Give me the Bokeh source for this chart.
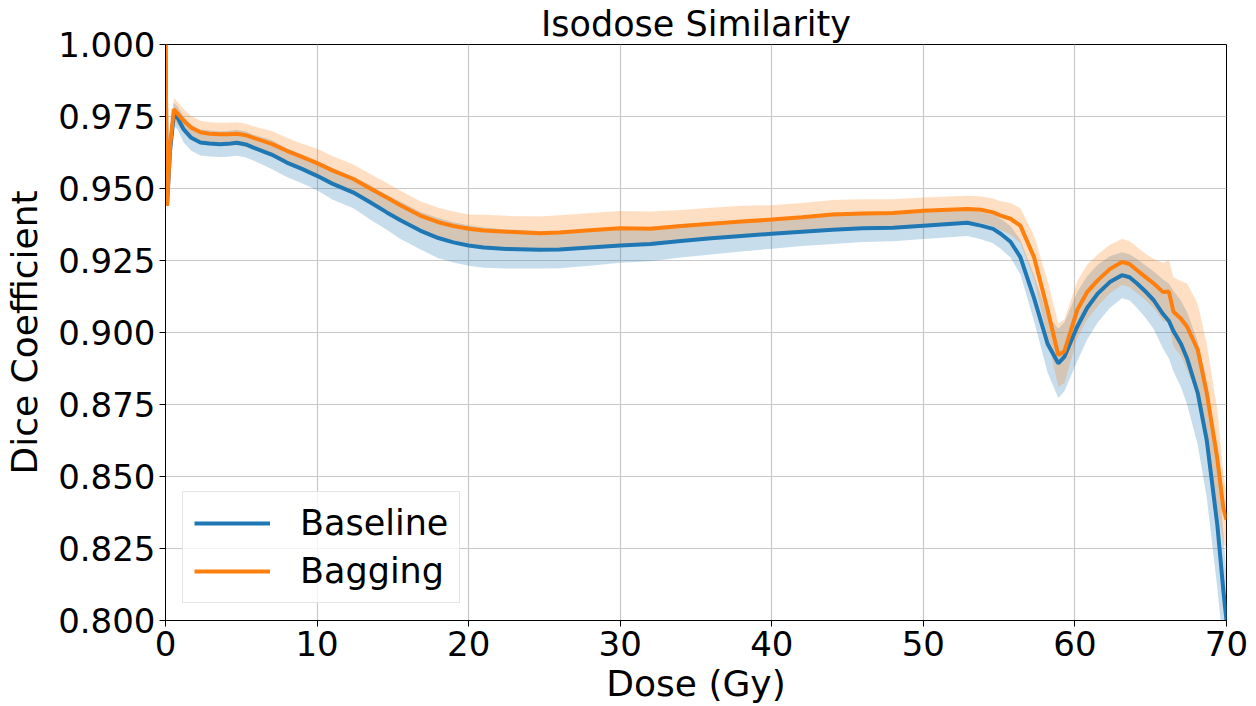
from bokeh.plotting import figure
from bokeh.models import FixedTicker, NumeralTickFormatter, Range1d, ColumnDataSource
from bokeh.embed import file_html
from bokeh.resources import INLINE

# Dose axis (Gy)
dose = [0, 0.1, 0.3, 0.55, 0.8, 1.2, 1.7, 2.3, 2.9, 3.6,
        4.1, 4.7, 5.3, 5.8, 7, 8, 9, 10, 11, 12.4,
        13.5, 14.6, 15.5, 16.8, 18, 19, 20, 21, 22.5, 24.7,
        26, 28, 30, 32, 34, 36, 38, 40, 42, 44,
        46, 48, 50, 52.9, 53.8, 54.6, 55.1, 55.75, 56.4, 57.3,
        58.2, 58.9, 59.3, 60.15, 60.8, 61.5, 62.3, 63.1, 63.6, 64.1,
        64.6, 65.2, 65.8, 66.2, 66.5, 67.0, 67.4, 68.1, 68.7, 69.4,
        69.8, 70]

baseline_mean = [1.0, 0.944, 0.963, 0.9757, 0.9745, 0.9705, 0.9676, 0.9660, 0.9656, 0.9654,
                 0.9655, 0.9659, 0.9653, 0.9642, 0.9618, 0.9590, 0.9568, 0.9544, 0.9517, 0.9486,
                 0.9452, 0.9417, 0.9390, 0.9354, 0.9328, 0.9313, 0.9302, 0.9295, 0.9290, 0.9287,
                 0.9288, 0.9295, 0.9302, 0.9307, 0.9318, 0.9327, 0.9335, 0.9343, 0.9350, 0.9357,
                 0.9362, 0.9364, 0.9371, 0.9381, 0.9371, 0.9360, 0.9343, 0.9315, 0.9262, 0.9120,
                 0.8960, 0.8893, 0.8915, 0.9020, 0.9085, 0.9135, 0.9175, 0.9199, 0.9192, 0.9170,
                 0.9145, 0.9112, 0.9065, 0.9040, 0.9005, 0.8960, 0.8910, 0.8790, 0.8625, 0.8330,
                 0.8100, 0.800]

baseline_std = [0.0, 0.002, 0.004, 0.004, 0.004, 0.0045, 0.0045, 0.0045, 0.0045, 0.0045,
                0.0045, 0.0045, 0.0045, 0.0045, 0.005, 0.005, 0.005, 0.005, 0.0055, 0.0055,
                0.006, 0.006, 0.0065, 0.0065, 0.007, 0.007, 0.007, 0.007, 0.0068, 0.0065,
                0.0065, 0.0063, 0.006, 0.006, 0.0058, 0.0056, 0.0054, 0.0052, 0.005, 0.005,
                0.0048, 0.0047, 0.0046, 0.0046, 0.0047, 0.005, 0.0052, 0.0055, 0.006, 0.008,
                0.010, 0.012, 0.012, 0.012, 0.011, 0.010, 0.009, 0.008, 0.008, 0.0085,
                0.009, 0.010, 0.012, 0.013, 0.014, 0.015, 0.016, 0.018, 0.020, 0.022,
                0.020, 0.015]

bagging_mean = [1.0, 0.944, 0.965, 0.9775, 0.976, 0.9735, 0.9711, 0.9695, 0.9690, 0.9688,
                0.9688, 0.9690, 0.9685, 0.9676, 0.9655, 0.9631, 0.9610, 0.9588, 0.9563, 0.9533,
                0.9500, 0.9469, 0.9442, 0.9406, 0.9383, 0.9370, 0.9360, 0.9354, 0.9350, 0.9345,
                0.9347, 0.9355, 0.9362, 0.9360, 0.9370, 0.9378, 0.9385, 0.9392, 0.9400, 0.9410,
                0.9413, 0.9415, 0.9423, 0.9429, 0.9426, 0.9417, 0.9406, 0.9395, 0.9371, 0.9262,
                0.9078, 0.8922, 0.8934, 0.9078, 0.9140, 0.9181, 0.9220, 0.9245, 0.9238, 0.9216,
                0.9195, 0.9170, 0.9141, 0.9142, 0.9072, 0.9048, 0.9020, 0.8940, 0.8790, 0.8560,
                0.8387, 0.835]

bagging_std = [0.0, 0.002, 0.004, 0.004, 0.004, 0.004, 0.004, 0.004, 0.004, 0.004,
               0.004, 0.004, 0.004, 0.004, 0.0045, 0.0045, 0.0045, 0.005, 0.005, 0.005,
               0.005, 0.005, 0.005, 0.005, 0.005, 0.005, 0.005, 0.0055, 0.0055, 0.0058,
               0.006, 0.006, 0.006, 0.006, 0.0055, 0.0055, 0.0055, 0.005, 0.005, 0.005,
               0.005, 0.0048, 0.0046, 0.0046, 0.0046, 0.0048, 0.005, 0.0055, 0.006, 0.0075,
               0.010, 0.011, 0.011, 0.010, 0.0095, 0.009, 0.0085, 0.008, 0.008, 0.008,
               0.008, 0.0085, 0.010, 0.011, 0.012, 0.013, 0.015, 0.016, 0.017, 0.017,
               0.012, 0.010]

x_ticks = [0, 10, 20, 30, 40, 50, 60, 70]
y_ticks = [0.800, 0.825, 0.850, 0.875, 0.900, 0.925, 0.950, 0.975, 1.000]

BLUE = "#1f77b4"
ORANGE = "#ff7f0e"
FONT = "DejaVu Sans"

src = ColumnDataSource(dict(
    x=dose,
    b=baseline_mean,
    b_lo=[m - s for m, s in zip(baseline_mean, baseline_std)],
    b_hi=[m + s for m, s in zip(baseline_mean, baseline_std)],
    g=bagging_mean,
    g_lo=[m - s for m, s in zip(bagging_mean, bagging_std)],
    g_hi=[m + s for m, s in zip(bagging_mean, bagging_std)],
))

p = figure(width=1256, height=706, output_backend="svg", toolbar_location=None,
           x_range=Range1d(0, 70), y_range=Range1d(0.8, 1.0),
           title="Isodose Similarity",
           min_border_left=165, min_border_right=30, min_border_top=43, min_border_bottom=81)

p.title.align = "center"
p.title.text_font = FONT
p.title.text_font_size = "35px"
p.title.text_font_style = "normal"
p.title.text_color = "black"
p.title.offset = 0
p.title.standoff = 2

p.varea(x="x", y1="b_lo", y2="b_hi", source=src, fill_color=BLUE, fill_alpha=0.25)
p.varea(x="x", y1="g_lo", y2="g_hi", source=src, fill_color=ORANGE, fill_alpha=0.25)
p.line(x="x", y="b", source=src, line_color=BLUE, line_width=4, legend_label="Baseline")
p.line(x="x", y="g", source=src, line_color=ORANGE, line_width=4, legend_label="Bagging")

p.xaxis.ticker = FixedTicker(ticks=x_ticks)
p.yaxis.ticker = FixedTicker(ticks=y_ticks)
p.yaxis.formatter = NumeralTickFormatter(format="0.000")
p.xaxis.axis_label = "Dose (Gy)"
p.yaxis.axis_label = "Dice Coefficient"

for ax in (p.xaxis, p.yaxis):
    ax.axis_label_text_font = FONT
    ax.axis_label_text_font_size = "36px"
    ax.axis_label_text_font_style = "normal"
    ax.axis_label_text_color = "black"
    ax.major_label_text_font = FONT
    ax.major_label_text_font_size = "34px"
    ax.major_label_text_color = "black"
    ax.major_tick_out = 6
    ax.major_tick_in = 0
    ax.minor_tick_out = 0
    ax.minor_tick_in = 0
    ax.major_tick_line_color = "black"
    ax.axis_line_color = "black"
    ax.major_label_standoff = 4

p.xaxis.axis_label_standoff = 4
p.yaxis.axis_label_standoff = 10

p.grid.grid_line_color = "#c8c8c8"
p.grid.grid_line_width = 1.2
p.outline_line_color = "black"
p.outline_line_width = 1
p.background_fill_color = "white"
p.border_fill_color = "white"

lg = p.legend[0]
lg.location = "bottom_left"
lg.margin = 17
lg.padding = 11
lg.spacing = 8
lg.label_text_font = FONT
lg.label_text_font_size = "35px"
lg.label_text_color = "black"
lg.label_height = 40
lg.glyph_height = 40
lg.glyph_width = 76
lg.label_standoff = 30
lg.border_line_color = "#cccccc"
lg.border_line_width = 1
lg.background_fill_alpha = 0.8

open("out.html", "w").write(file_html(p, INLINE))
